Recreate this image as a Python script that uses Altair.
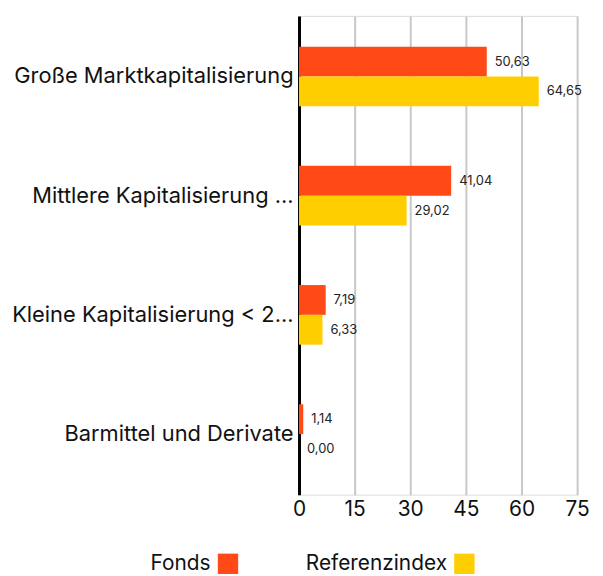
import altair as alt
import pandas as pd

categories = [
    "Große Marktkapitalisierung",
    "Mittlere Kapitalisierung ...",
    "Kleine Kapitalisierung < 2...",
    "Barmittel und Derivate",
]
series = ["Fonds", "Referenzindex"]
fonds = [50.63, 41.04, 7.19, 1.14]
referenz = [64.65, 29.02, 6.33, 0.00]
colors = ["#FF4A17", "#FFCE00"]
x_ticks = [0, 15, 30, 45, 60, 75]

rows = []
for c, f, r in zip(categories, fonds, referenz):
    rows.append({"cat": c, "series": series[0], "value": f})
    rows.append({"cat": c, "series": series[1], "value": r})
df = pd.DataFrame(rows)

FONT = "Inter"

y = alt.Y("cat:N", sort=categories, title=None,
          scale=alt.Scale(paddingInner=0.5, paddingOuter=0.258),
          axis=alt.Axis(labelFontSize=22, labelColor="#111", labelFont=FONT,
                        labelPadding=6, ticks=False, domainColor="#000",
                        domainWidth=3, labelLimit=320))
x = alt.X("value:Q", title=None,
          scale=alt.Scale(domain=[0, 75], nice=False),
          axis=alt.Axis(values=x_ticks, labelFontSize=21, labelFont=FONT,
                        labelColor="#111", ticks=False, domain=False,
                        gridColor="#c8c8c8", gridWidth=2, labelPadding=4,
                        labelFlush=False))
yoff = alt.YOffset("series:N", sort=series)
color = alt.Color("series:N", sort=series,
                  scale=alt.Scale(domain=series, range=colors),
                  legend=alt.Legend(orient="none", legendX=-82, legendY=541,
                                    direction="horizontal", title=None,
                                    symbolType="square", symbolSize=420,
                                    symbolStrokeWidth=0, labelFontSize=21,
                                    labelFont=FONT, labelColor="#111",
                                    labelAlign="right", labelOffset={"expr": "-28"},
                                    columnPadding=67))

bars = alt.Chart(df).mark_bar(size=30).encode(y=y, x=x, yOffset=yoff, color=color)
text = alt.Chart(df).transform_calculate(
    lbl="replace(format(datum.value, '.2f'), '.', ',')"
).mark_text(align="left", dx=8, fontSize=13, font=FONT, color="#222").encode(
    y=alt.Y("cat:N", sort=categories), x="value:Q", yOffset=yoff, text="lbl:N")

chart = (bars + text).properties(width=280, height=482).configure_view(
    stroke=None).configure(padding={"left": 3, "top": 6, "right": 5, "bottom": 5})

chart.save("out.html", embed_options={"renderer": "svg", "actions": False})
